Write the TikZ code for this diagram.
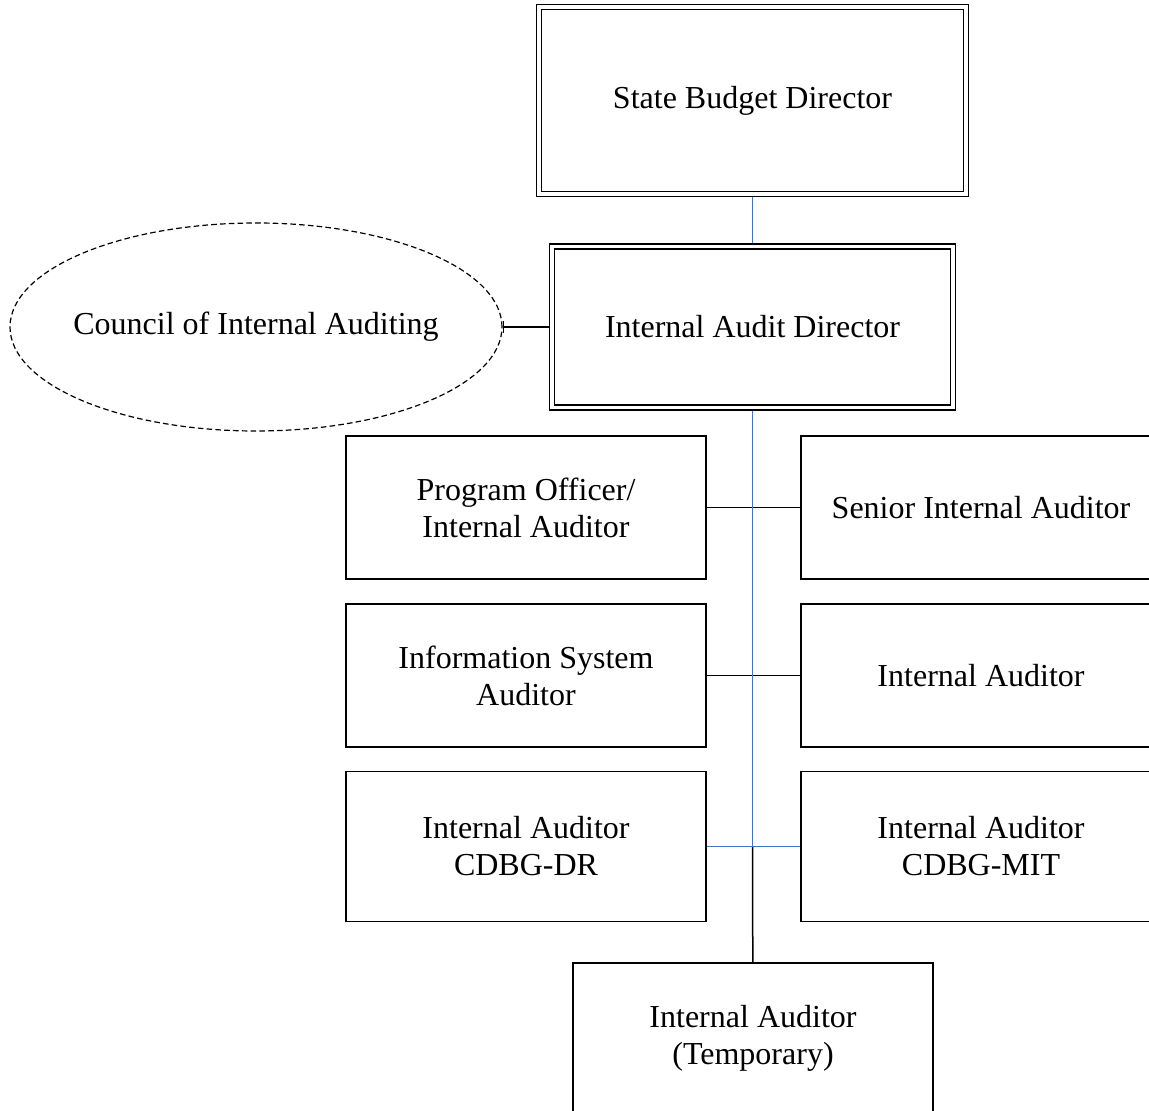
\documentclass[tikz,border=0pt]{standalone}
\usepackage{fontspec}
\setmainfont{Liberation Serif}
\usetikzlibrary{positioning, shapes.geometric, arrows.meta}
\definecolor{linkblue}{RGB}{68,114,196}
\tikzstyle{headbox} = [rectangle, minimum width=200.5pt, minimum height=80.5pt, text centered, draw=black, line width=0.7pt, double, double distance=1.8pt, outer sep=1.6pt]
\tikzstyle{staffbox} = [rectangle, minimum width=180pt, minimum height=71.5pt, text centered, draw=black, line width=0.75pt]
\tikzstyle{council} = [ellipse, minimum width=246pt, minimum height=104pt, inner xsep=-5pt, text centered, draw=black, line width=0.6pt, dash pattern=on 2.8pt off 1.6pt]
\tikzstyle{line} = [line width=0.75pt, -]
\tikzstyle{blueline} = [line width=0.75pt, -, draw=linkblue]

\begin{document}
\begin{tikzpicture}[x=0.5pt, y=-0.5pt, node distance=84pt, align=center, font=\fontsize{16}{18.5}\selectfont]

\useasboundingbox (0,0) rectangle (1149,1111);
\clip (0,0) rectangle (1149,1111);

% Nodes
\node (budget) [headbox, minimum width=213.25pt, minimum height=93.5pt] at (752.5,100.5) {State Budget Director};

\node (director) [headbox, below of=budget, yshift=-29.25pt] {Internal Audit Director};

\node (cia) [council, left of=director, xshift=-164.25pt] {Council of Internal Auditing};

\node (program) [staffbox, below of=director, xshift=-113.25pt, yshift=-6.25pt] {Program Officer/\\Internal Auditor};
\node (senior) [staffbox, right of=program, xshift=143.5pt] {Senior Internal Auditor};

\node (infosys) [staffbox, below of=program] {Information System\\Auditor};
\node (auditor) [staffbox, right of=infosys, xshift=143.5pt] {Internal Auditor};

\node (cdbgdr) [staffbox, minimum height=75pt, below of=infosys, yshift=-1.5pt] {Internal Auditor\\CDBG-DR};
\node (cdbgmit) [staffbox, minimum height=75pt, right of=cdbgdr, xshift=143.5pt] {Internal Auditor\\CDBG-MIT};

\node (temporary) [staffbox, minimum height=75pt, below of=cdbgdr, xshift=113.5pt, yshift=-11.75pt] {Internal Auditor\\(Temporary)};

\coordinate (junction) at (director.south |- cdbgdr.east);

% Lines
\draw [line] (program) -- (senior);
\draw [line] (infosys) -- (auditor);
\draw [line] (junction) -- (temporary);
\draw [line, {Bar[width=6pt]}-] (cia) -- (director);

\draw [blueline] (budget) -- (director);
\draw [blueline] (director) -- (junction);
\draw [blueline] (cdbgdr) -- (cdbgmit);

\end{tikzpicture}
\end{document}
